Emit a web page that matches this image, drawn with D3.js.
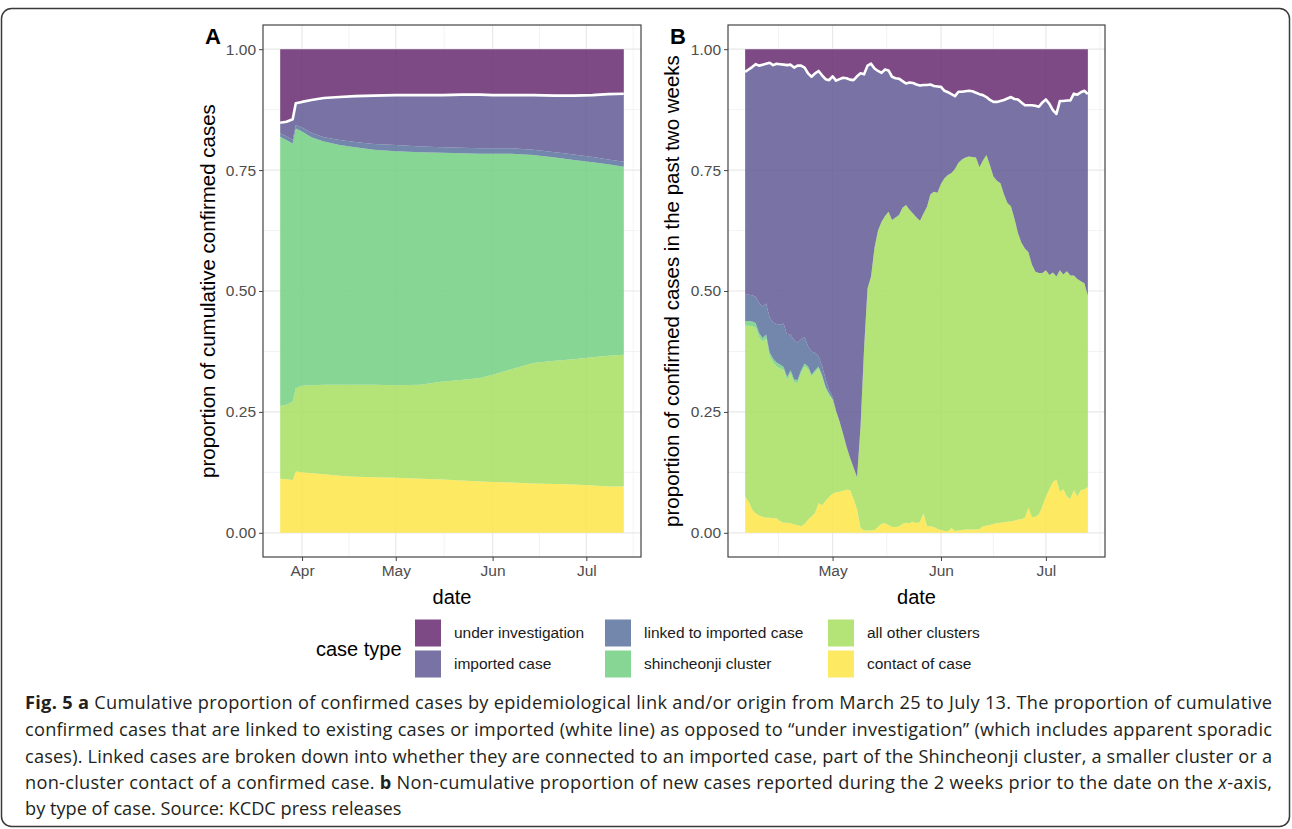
<!DOCTYPE html>
<html><head><meta charset="utf-8">
<script src="https://cdn.jsdelivr.net/npm/d3@7"></script>
<style>body{margin:0;background:#fff;} svg{display:block;}</style>
</head><body>
<svg id="c" width="1292" height="829"></svg>
<script>
// ---------- DATA ----------
const caseTypes = ["contact of case","all other clusters","shincheonji cluster","linked to imported case","imported case","under investigation"];
const seriesKeys = ["contact","other","shin","linked","imported","under"];
const colorsKey = ["#fde646","#a7df5f","#73cf81","#59729c","#625a95","#662a70"];

// Panel A: cumulative proportions
const aDates = ["2020-03-25","2020-03-27","2020-03-29","2020-03-30","2020-04-01","2020-04-04","2020-04-08","2020-04-13","2020-04-18","2020-04-24","2020-05-01","2020-05-09","2020-05-16","2020-05-22","2020-05-28","2020-06-01","2020-06-07","2020-06-14","2020-06-21","2020-06-27","2020-07-03","2020-07-08","2020-07-13"];
const aContact  = [.112,.111,.109,.127,.125,.123,.121,.118,.116,.115,.114,.112,.110,.108,.106,.105,.104,.102,.101,.100,.098,.096,.096];
const aOther    = [.150,.154,.162,.172,.179,.182,.185,.188,.190,.191,.191,.194,.203,.208,.214,.222,.234,.249,.255,.259,.265,.270,.272];
const aShin     = [.557,.547,.534,.537,.526,.513,.503,.496,.491,.486,.484,.481,.473,.469,.464,.457,.446,.430,.420,.412,.403,.396,.389];
const aLinked   = [.007,.008,.007,.007,.008,.009,.009,.010,.011,.012,.013,.012,.011,.011,.011,.011,.011,.011,.011,.011,.011,.010,.010];
const aImported = [.022,.030,.043,.045,.053,.068,.081,.089,.095,.100,.103,.106,.108,.110,.111,.110,.110,.113,.117,.122,.128,.135,.141];
const aUnder    = [.152,.150,.145,.112,.109,.105,.101,.099,.097,.096,.095,.095,.095,.094,.094,.095,.095,.095,.096,.096,.095,.093,.092];

// Panel B: proportion of cases in past two weeks (daily, Apr 6 - Jul 13)
const bStart = "2020-04-06", bEnd = "2020-07-13";
const bContact = [.075,.065,.048,.040,.036,.033,.031,.031,.030,.030, .024,.021,.021,.020,.017,.016,.013,.018,.027,.034, .041,.061,.057,.066,.074,.081,.084,.085,.087,.089, .088,.070,.048,.010,.005,.005,.005,.006,.012,.019, .020,.016,.012,.012,.013,.018,.021,.020,.023,.020, .023,.040,.014,.013,.012,.008,.006,.004,.003,.010, .004,.005,.006,.007,.007,.007,.007,.008,.013,.015, .016,.018,.020,.021,.022,.023,.024,.025,.027,.028, .031,.052,.032,.033,.038,.055,.075,.090,.105,.110, .085,.090,.075,.070,.088,.075,.088,.090,.094];
const bOther = [.353,.363,.379,.384,.369,.362,.371,.334,.322,.314, .316,.316,.295,.310,.294,.294,.317,.326,.311,.289, .291,.279,.265,.232,.210,.194,.168,.145,.118,.089, .067,.065,.067,.210,.375,.500,.525,.584,.613,.624, .635,.648,.635,.640,.644,.654,.657,.648,.637,.632, .622,.620,.660,.687,.693,.695,.716,.729,.737,.734, .748,.760,.766,.769,.771,.770,.769,.748,.757,.766, .744,.719,.708,.702,.678,.659,.651,.625,.593,.572, .557,.528,.523,.507,.499,.482,.468,.443,.433,.420, .458,.444,.466,.462,.444,.450,.432,.426,.396];
const bShin = [.010,.010,.010,.010,.008,.008,.008,.008,.008,.008, .008,.006,.006,.006,.006,.006,.006,.006,.006,.004, .004,.004,.004,.004,.004,.002,0,0,0,0, 0,0,0,0,0,0,0,0,0,0, 0,0,0,0,0,0,0,0,0,0, 0,0,0,0,0,0,0,0,0,0, 0,0,0,0,0,0,0,0,0,0, 0,0,0,0,0,0,0,0,0,0, 0,0,0,0,0,0,0,0,0,0, 0,0,0,0,0,0,0,0,0];
const bLinked = [.054,.054,.054,.054,.062,.065,.064,.072,.075,.080, .082,.090,.087,.074,.081,.077,.064,.055,.041,.048, .036,.021,.019,.016,.007,.005,0,0,0,0, 0,0,0,0,0,0,0,0,0,0, 0,0,0,0,0,0,0,0,0,0, 0,0,0,0,0,0,0,0,0,0, 0,0,0,0,0,0,0,0,0,0, 0,0,0,0,0,0,0,0,0,0, 0,0,0,0,0,0,0,0,0,0, 0,0,0,0,0,0,0,0,0];
const bImported = [.461,.466,.472,.481,.491,.500,.496,.527,.532,.538, .539,.535,.558,.558,.564,.573,.566,.557,.565,.568, .578,.590,.601,.620,.641,.662,.683,.708,.736,.762, .782,.801,.829,.730,.568,.461,.440,.370,.330,.308, .303,.292,.296,.288,.282,.262,.251,.263,.270,.275, .280,.266,.252,.227,.219,.220,.200,.181,.171,.163, .151,.147,.140,.137,.136,.136,.134,.151,.135,.120, .135,.154,.163,.170,.195,.216,.226,.247,.276,.290, .296,.304,.329,.343,.344,.353,.353,.354,.336,.336, .350,.359,.353,.362,.376,.381,.391,.398,.417];
const bUnder = [.047,.042,.037,.031,.034,.032,.030,.028,.033,.030, .031,.032,.033,.032,.038,.034,.034,.038,.050,.057, .050,.045,.054,.062,.064,.056,.065,.062,.059,.060, .063,.064,.056,.050,.052,.034,.030,.040,.045,.049, .042,.044,.057,.060,.061,.066,.071,.069,.070,.073, .075,.074,.074,.073,.076,.077,.078,.086,.089,.093, .097,.088,.088,.087,.086,.087,.090,.093,.095,.099, .105,.109,.109,.107,.105,.102,.099,.103,.104,.110, .116,.116,.116,.117,.119,.110,.104,.113,.126,.134, .107,.107,.106,.106,.092,.094,.089,.086,.093];

const yTicks = [0, 0.25, 0.5, 0.75, 1];
const yMinor = [0.125, 0.375, 0.625, 0.875];
const legendOrder = ["under investigation","imported case","linked to imported case","shincheonji cluster","all other clusters","contact of case"];
const captionLines = [
 [["b","Fig. 5 a"],["n"," Cumulative proportion of confirmed cases by epidemiological link and/or origin from March 25 to July 13. The proportion of cumulative"]],
 [["n","confirmed cases that are linked to existing cases or imported (white line) as opposed to \u201cunder investigation\u201d (which includes apparent sporadic"]],
 [["n","cases). Linked cases are broken down into whether they are connected to an imported case, part of the Shincheonji cluster, a smaller cluster or a"]],
 [["n","non-cluster contact of a confirmed case. "],["b","b"],["n"," Non-cumulative proportion of new cases reported during the 2 weeks prior to the date on the "],["i","x"],["n","-axis,"]],
 [["n","by type of case. Source: KCDC press releases"]]
];

// ---------- DRAW ----------
const svg = d3.select("#c");
const parse = d3.timeParse("%Y-%m-%d");
const FONT = "'Liberation Sans', Arial, sans-serif";
const color = d3.scaleOrdinal().domain(caseTypes).range(colorsKey);
const keyToType = Object.fromEntries(seriesKeys.map((k,i)=>[k,caseTypes[i]]));

// outer frame
svg.append("rect").attr("x",1.5).attr("y",8.5).attr("width",1288).attr("height",818).attr("rx",10)
  .attr("fill","none").attr("stroke","#3a3a3a").attr("stroke-width",1.5);

function buildRows(dates, arrs){
  return dates.map((d,i)=>{ const r={date:d}; seriesKeys.forEach((k,j)=>r[k]=arrs[j][i]); return r; });
}
const rowsA = buildRows(aDates.map(parse), [aContact,aOther,aShin,aLinked,aImported,aUnder]);
const bDates = d3.timeDay.range(parse(bStart), d3.timeDay.offset(parse(bEnd),1));
const rowsB = buildRows(bDates, [bContact,bOther,bShin,bLinked,bImported,bUnder]);

function panel(rows, left, right, label, ytitle, ytitleX){
  const top=25, bottom=557;
  const ext = d3.extent(rows, d=>d.date);
  const span = ext[1]-ext[0];
  const x = d3.scaleTime().domain([new Date(+ext[0]-0.05*span), new Date(+ext[1]+0.05*span)]).range([left,right]);
  const y = d3.scaleLinear().domain([-0.05,1.05]).range([bottom,top]);
  const g = svg.append("g");
  // grid
  const majors = x.ticks(d3.timeMonth.every(1));
  const minors = [];
  const step = majors[1]-majors[0];
  const allM = [new Date(+majors[0]-step)].concat(majors,[new Date(+majors[majors.length-1]+step)]);
  for(let i=0;i<allM.length-1;i++){ const m=new Date((+allM[i]+ +allM[i+1])/2); if(m>=x.domain()[0]&&m<=x.domain()[1]) minors.push(m); }
  g.selectAll(".gxm").data(minors).join("line").attr("x1",d=>x(d)).attr("x2",d=>x(d)).attr("y1",top).attr("y2",bottom).attr("stroke","#f0f0f0").attr("stroke-width",0.8);
  g.selectAll(".gym").data(yMinor).join("line").attr("y1",d=>y(d)).attr("y2",d=>y(d)).attr("x1",left).attr("x2",right).attr("stroke","#f0f0f0").attr("stroke-width",0.8);
  g.selectAll(".gx").data(majors).join("line").attr("x1",d=>x(d)).attr("x2",d=>x(d)).attr("y1",top).attr("y2",bottom).attr("stroke","#e8e8e8").attr("stroke-width",1.2);
  g.selectAll(".gy").data(yTicks).join("line").attr("y1",d=>y(d)).attr("y2",d=>y(d)).attr("x1",left).attr("x2",right).attr("stroke","#e8e8e8").attr("stroke-width",1.2);
  // stacked areas
  const stack = d3.stack().keys(seriesKeys)(rows);
  const area = d3.area().x(d=>x(d.data.date)).y0(d=>y(d[0])).y1(d=>y(d[1]));
  g.selectAll(".layer").data(stack).join("path").attr("d",area)
    .attr("fill",d=>color(keyToType[d.key])).attr("fill-opacity",0.85).attr("stroke","none");
  // white line (linked or imported share)
  const impLayer = stack.find(s=>s.key==="imported");
  g.append("path").datum(impLayer).attr("d", d3.line().x(d=>x(d.data.date)).y(d=>y(d[1])))
    .attr("fill","none").attr("stroke","#fff").attr("stroke-width",2.6).attr("stroke-linejoin","round");
  // border
  g.append("rect").attr("x",left).attr("y",top).attr("width",right-left).attr("height",bottom-top)
    .attr("fill","none").attr("stroke","#444").attr("stroke-width",1.2);
  // axes
  const ax = g.append("g").attr("transform",`translate(${left},0)`)
    .call(d3.axisLeft(y).tickValues(yTicks).tickFormat(d3.format(".2f")).tickSize(4).tickPadding(3));
  const bx = g.append("g").attr("transform",`translate(0,${bottom})`)
    .call(d3.axisBottom(x).tickValues(majors).tickFormat(d3.timeFormat("%b")).tickSize(4).tickPadding(4));
  [ax,bx].forEach(a=>{ a.select(".domain").remove(); a.selectAll(".tick line").attr("stroke","#444");
    a.selectAll("text").attr("fill","#4d4d4d").style("font-family",FONT).style("font-size","15.5px"); });
  // titles
  g.append("text").attr("x",(left+right)/2).attr("y",604).attr("text-anchor","middle")
    .style("font-family",FONT).style("font-size","20px").attr("fill","#000").text("date");
  g.append("text").attr("transform",`translate(${ytitleX},${(top+bottom)/2}) rotate(-90)`).attr("text-anchor","middle")
    .style("font-family",FONT).style("font-size","20.5px").attr("fill","#000").text(ytitle);
  g.append("text").attr("x",left-58).attr("y",44).style("font-family",FONT).style("font-size","22px")
    .style("font-weight","bold").attr("fill","#000").text(label);
}
panel(rowsA, 263, 641, "A", "proportion of cumulative confirmed cases", 215);
panel(rowsB, 728, 1105, "B", "proportion of confirmed cases in the past two weeks", 679);

// legend
const lg = svg.append("g");
lg.append("text").attr("x",316).attr("y",656).style("font-family",FONT).style("font-size","20px").attr("fill","#000").text("case type");
const colX = [415, 605, 828], rowY = [633, 664];
legendOrder.forEach((t,i)=>{
  const cx = colX[Math.floor(i/2)], cy = rowY[i%2];
  lg.append("rect").attr("x",cx).attr("y",cy-13.5).attr("width",26).attr("height",27)
    .attr("fill",color(t)).attr("fill-opacity",0.85);
  lg.append("text").attr("x",cx+39).attr("y",cy+5).style("font-family",FONT).style("font-size","15.5px").attr("fill","#1a1a1a").text(t);
});

// caption
const cap = svg.append("g");
const capY = [709, 736, 763, 789, 815];
captionLines.forEach((line,i)=>{
  const t = cap.append("text").attr("x",25).attr("y",capY[i])
    .style("font-family","'Open Sans',sans-serif").style("font-size","18.2px").attr("fill","#231f20");
  if(i<4) t.attr("textLength",1247).attr("lengthAdjust","spacing");
  line.forEach(([s,txt])=>{
    const ts = t.append("tspan").text(txt);
    if(s==="b") ts.style("font-weight","bold");
    if(s==="i") ts.style("font-style","italic");
  });
});
</script>
</body></html>
